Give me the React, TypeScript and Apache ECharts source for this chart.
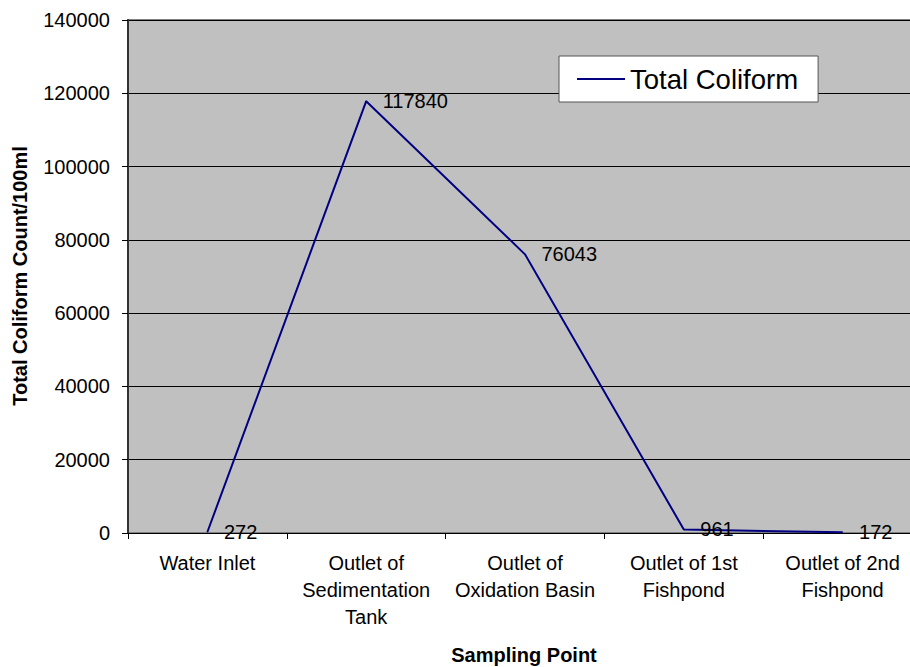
import React, { useEffect, useRef } from "react";
import * as echarts from "echarts";

const categories = [
  "Water Inlet",
  "Outlet of\nSedimentation\nTank",
  "Outlet of\nOxidation Basin",
  "Outlet of 1st\nFishpond",
  "Outlet of 2nd\nFishpond",
];
const totalColiform = [272, 117840, 76043, 961, 172];
const seriesName = "Total Coliform";
const yTitle = "Total Coliform Count/100ml";
const xTitle = "Sampling Point";

export default function App() {
  const ref = useRef<HTMLDivElement>(null);
  useEffect(() => {
    if (!ref.current) return;
    document.documentElement.style.overflow = "hidden";
    document.body.style.overflow = "hidden";
    const chart = echarts.init(ref.current, null, { renderer: "svg" });
    const font = "Arial, 'Liberation Sans', sans-serif";
    chart.setOption({
      animation: false,
      backgroundColor: "#ffffff",
      textStyle: { fontFamily: font },
      grid: {
        left: 128,
        top: 20,
        width: 794,
        height: 513,
        outerBoundsMode: "none",
        containLabel: false,
        show: true,
        backgroundColor: "#C0C0C0",
        borderColor: "#808080",
        borderWidth: 2,
      },
      legend: {
        left: 559,
        top: 56,
        backgroundColor: "#ffffff",
        borderColor: "#555555",
        borderWidth: 1,
        padding: [9, 20, 9, 18],
        itemWidth: 48,
        itemHeight: 26,
        itemGap: 4,
        icon: "path://M0,12 L48,12 L48,14 L0,14 Z",
        itemStyle: { color: "#000080", opacity: 1 },
        textStyle: { fontSize: 27.5, color: "#000", fontFamily: font },
        data: [seriesName],
      },
      xAxis: {
        type: "category",
        data: categories,
        boundaryGap: true,
        axisLine: { show: true, lineStyle: { color: "#000", width: 1 } },
        axisTick: { show: true, length: 6, lineStyle: { color: "#000" } },
        axisLabel: {
          fontSize: 20,
          color: "#000",
          lineHeight: 27,
          margin: 16,
          interval: 0,
          fontFamily: font,
        },
        splitLine: { show: false },
      },
      yAxis: {
        type: "value",
        min: 0,
        max: 140000,
        interval: 20000,
        axisLine: { show: true, lineStyle: { color: "#333", width: 2 } },
        axisTick: { show: true, length: 6, lineStyle: { color: "#000" } },
        axisLabel: {
          fontSize: 20,
          color: "#000",
          margin: 18,
          fontFamily: font,
          formatter: (v: number) => String(v),
        },
        splitLine: { show: true, lineStyle: { color: "#000", width: 1 } },
      },
      graphic: [
        {
          type: "text",
          x: 20,
          y: 276,
          rotation: Math.PI / 2,
          style: {
            text: yTitle,
            fill: "#000",
            font: "bold 20px Arial, 'Liberation Sans', sans-serif",
            align: "center",
            verticalAlign: "middle",
          },
        },
        {
          type: "text",
          x: 524,
          y: 655,
          style: {
            text: xTitle,
            fill: "#000",
            font: "bold 20px Arial, 'Liberation Sans', sans-serif",
            align: "center",
            verticalAlign: "middle",
          },
        },
      ],
      series: [
        {
          name: seriesName,
          type: "line",
          data: totalColiform,
          symbol: "circle",
          symbolSize: 1,
          showSymbol: true,
          lineStyle: { color: "#000080", width: 2 },
          itemStyle: { color: "#000080" },
          label: {
            show: true,
            position: "right",
            distance: 16,
            fontSize: 20,
            color: "#000",
            fontFamily: font,
          },
        },
      ],
    });
    return () => chart.dispose();
  }, []);
  return (
    <div
      style={{
        position: "fixed",
        left: 0,
        top: 0,
        width: 910,
        height: 667,
        overflow: "hidden",
      }}
    >
      <div ref={ref} style={{ width: 910, height: 667, overflow: "hidden" }} />
    </div>
  );
}
